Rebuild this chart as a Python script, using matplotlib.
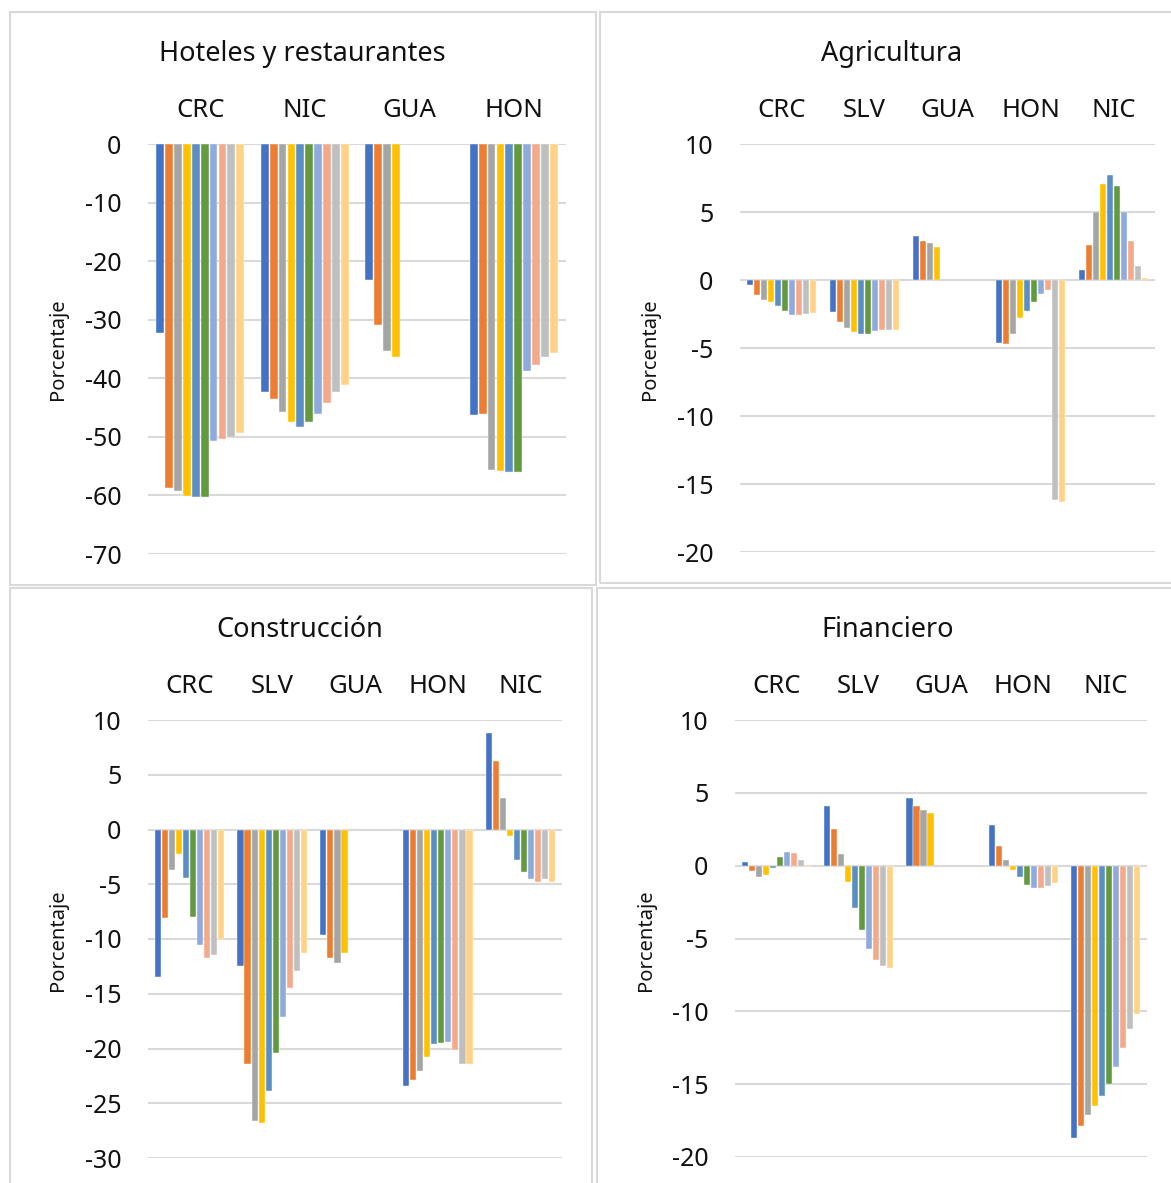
import numpy as np
import matplotlib
matplotlib.use("Agg")
import matplotlib.pyplot as plt
from matplotlib.patches import Rectangle

plt.rcParams['font.family'] = ['Noto Sans', 'DejaVu Sans']

nan = np.nan

# colours of the 10 series (Excel style palette)
colors = ["#4472C4", "#ED7D31", "#A5A5A5", "#FFC000", "#5B8FC3",
          "#639A3F", "#8FAADC", "#F3A98A", "#BFBFBF", "#FFD285"]

# Hoteles y restaurantes
hot_cats = ["CRC", "NIC", "GUA", "HON"]
hot_vals = [
    [-32.2, -58.7, -59.3, -60.1, -60.3, -60.3, -50.7, -50.4, -50.0, -49.3],
    [-42.3, -43.6, -45.8, -47.5, -48.3, -47.5, -46.1, -44.3, -42.3, -41.1],
    [-23.2, -30.9, -35.4, -36.3, nan, nan, nan, nan, nan, nan],
    [-46.3, -46.1, -55.7, -55.8, -56.0, -56.0, -38.7, -37.7, -36.4, -35.7],
]

# Agricultura
agr_cats = ["CRC", "SLV", "GUA", "HON", "NIC"]
agr_vals = [
    [-0.4, -1.1, -1.45, -1.65, -1.9, -2.3, -2.6, -2.6, -2.5, -2.45],
    [-2.35, -3.1, -3.55, -3.85, -4.0, -3.95, -3.75, -3.65, -3.65, -3.65],
    [3.2, 2.9, 2.7, 2.4, nan, nan, nan, nan, nan, nan],
    [-4.6, -4.7, -3.95, -2.8, -2.25, -1.65, -1.0, -0.75, -16.2, -16.35],
    [0.75, 2.55, 5.0, 7.05, 7.75, 6.9, 5.0, 2.9, 1.05, 0.15],
]

# Construccion
con_cats = ["CRC", "SLV", "GUA", "HON", "NIC"]
con_vals = [
    [-13.5, -8.05, -3.7, -2.2, -4.4, -8.0, -10.55, -11.7, -11.5, -10.0],
    [-12.5, -21.4, -26.6, -26.8, -23.9, -20.4, -17.1, -14.5, -12.9, -11.25],
    [-9.6, -11.7, -12.2, -11.25, nan, nan, nan, nan, nan, nan],
    [-23.4, -22.9, -22.1, -20.8, -19.6, -19.5, -19.4, -20.1, -21.4, -21.4],
    [8.8, 6.25, 2.9, -0.6, -2.8, -3.85, -4.55, -4.75, -4.5, -4.8],
]

# Financiero
fin_cats = ["CRC", "SLV", "GUA", "HON", "NIC"]
fin_vals = [
    [0.27, -0.4, -0.8, -0.65, -0.15, 0.57, 0.95, 0.87, 0.38, -0.07],
    [4.08, 2.55, 0.8, -1.1, -2.9, -4.4, -5.7, -6.5, -6.9, -7.0],
    [4.62, 4.08, 3.8, 3.6, nan, nan, nan, nan, nan, nan],
    [2.76, 1.35, 0.4, -0.3, -0.8, -1.3, -1.5, -1.5, -1.42, -1.2],
    [-18.7, -17.9, -17.1, -16.5, -15.8, -15.0, -13.8, -12.5, -11.2, -10.2],
]

W, H = 1171, 1183
fig = plt.figure(figsize=(W / 100, H / 100), dpi=100)


def px_axes(l, r, t, b):
    return [l / W, 1 - b / H, (r - l) / W, (b - t) / H]


def draw_panel(rect, cats, vals, ylim, yticks, title, title_xy, ylab_xy):
    ax = fig.add_axes(px_axes(*rect))
    n = len(vals[0])
    slot = 0.85 / n
    for i in range(n):
        ys = np.array([row[i] for row in vals], dtype=float)
        xs = np.arange(len(cats)) - 0.425 + slot * (i + 0.5)
        ax.bar(xs, ys, width=slot * 0.88, color=colors[i],
               edgecolor="white", linewidth=0.3, zorder=3)
    ax.set_xlim(-0.5, len(cats) - 0.5)
    ax.set_ylim(*ylim)
    ax.set_yticks(yticks)
    ax.set_yticklabels([str(v) for v in yticks])
    ax.yaxis.grid(True, color="#D9D9D9", linewidth=1.5, zorder=0)
    ax.set_axisbelow(True)
    ax.xaxis.tick_top()
    ax.set_xticks(np.arange(len(cats)))
    ax.set_xticklabels(cats)
    ax.tick_params(axis="x", length=0, pad=15, labelsize=18.5, colors="#111111")
    ax.tick_params(axis="y", length=0, pad=19, labelsize=18, colors="#111111")
    for s in ax.spines.values():
        s.set_visible(False)
    fig.text(title_xy[0] / W, 1 - (title_xy[1] + 2) / H, title, fontsize=19.5,
             ha="center", va="center", color="#111111")
    fig.text(ylab_xy[0] / W, 1 - ylab_xy[1] / H, "Porcentaje", fontsize=14.5,
             rotation=90, ha="center", va="center", color="#111111")
    return ax


# panel frames
for (l, t, r, b) in [(10, 12, 596, 585), (600, 12, 1175, 583),
                     (10, 588, 592, 1190), (597, 588, 1175, 1190)]:
    fig.patches.append(Rectangle((l / W, 1 - b / H), (r - l) / W, (b - t) / H,
                                 transform=fig.transFigure, fill=False,
                                 edgecolor="#D9D9D9", linewidth=1.5))

draw_panel((148, 566, 144, 554), hot_cats, hot_vals, (-70, 0),
           list(range(-70, 1, 10)), "Hoteles y restaurantes", (302, 52), (58, 349))
draw_panel((740, 1155, 144, 552), agr_cats, agr_vals, (-20, 10),
           list(range(-20, 11, 5)), "Agricultura", (892, 52), (650, 349))
draw_panel((148, 562, 720, 1158), con_cats, con_vals, (-30, 10),
           list(range(-30, 11, 5)), "Construcción", (300, 628), (58, 940))
draw_panel((735, 1147, 720, 1157), fin_cats, fin_vals, (-20, 10),
           list(range(-20, 11, 5)), "Financiero", (888, 628), (646, 940))

fig.savefig("out.png", dpi=100)
